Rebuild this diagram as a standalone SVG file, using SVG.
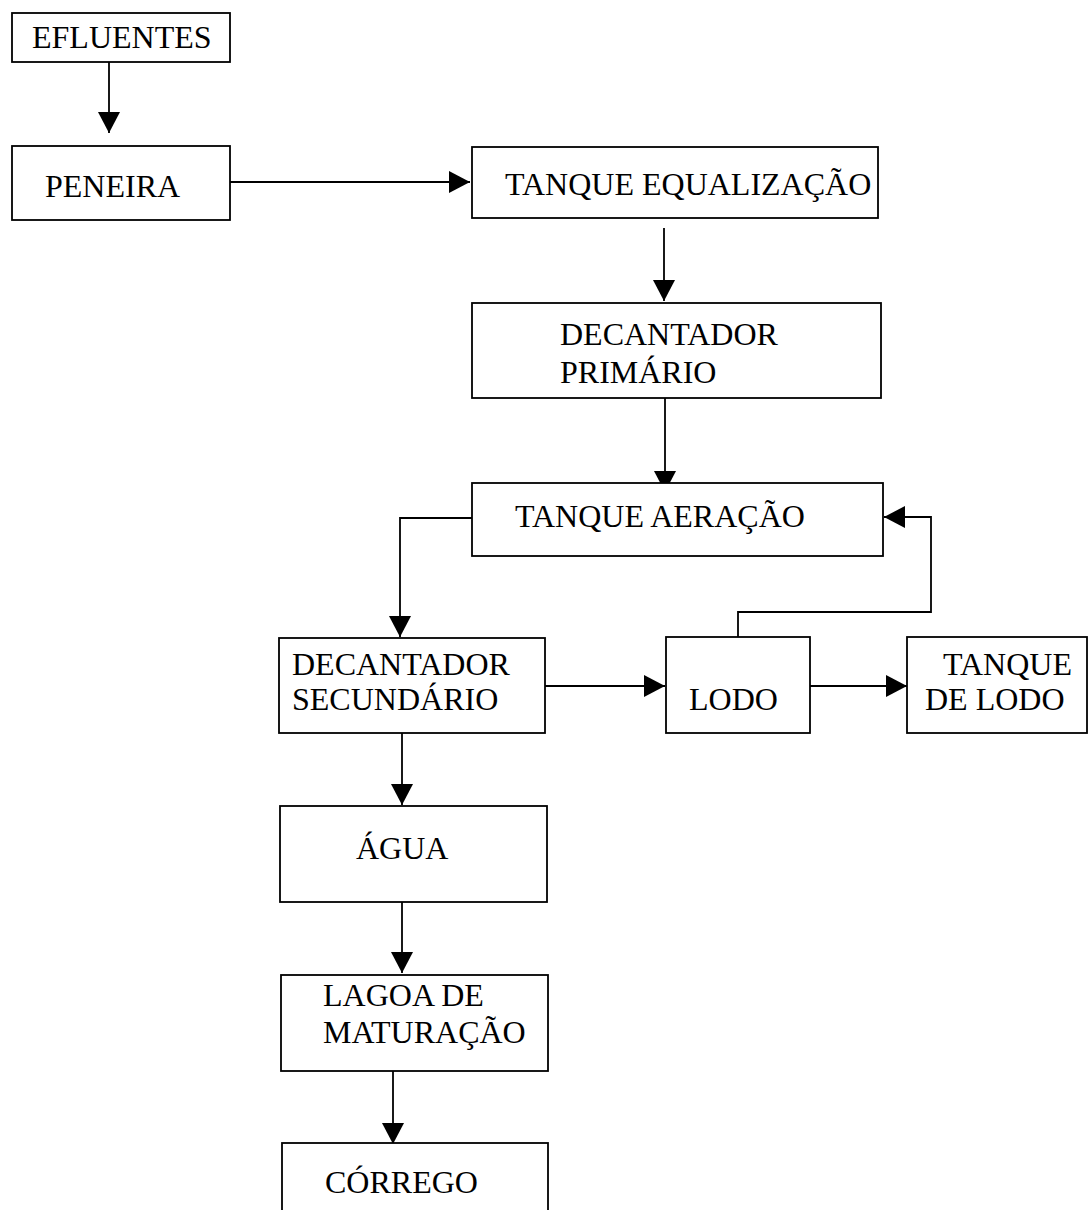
<svg xmlns="http://www.w3.org/2000/svg" width="1089" height="1210" viewBox="0 0 1089 1210">
<style>
.box{fill:#fff;stroke:#000;stroke-width:1.8}
.t{font-family:'Liberation Serif','DejaVu Serif',serif;font-size:32px;fill:#000}
.c{fill:none;stroke:#000;stroke-width:1.8}
</style>
<defs>
<marker id="ah" markerUnits="userSpaceOnUse" markerWidth="24" markerHeight="24" refX="21" refY="11" orient="auto">
<path d="M0,0 L21,11 L0,22 z" fill="#000"/>
</marker>
</defs>
<rect width="1089" height="1210" fill="#fff"/>
<g id="connectors">
<path class="c" d="M109,62 V133" marker-end="url(#ah)"/>
<path class="c" d="M230,182 H470" marker-end="url(#ah)"/>
<path class="c" d="M664,228 V301" marker-end="url(#ah)"/>
<path class="c" d="M665,398 V492" marker-end="url(#ah)"/>
<path class="c" d="M472,518 H400 V637" marker-end="url(#ah)"/>
<path class="c" d="M545,686 H665" marker-end="url(#ah)"/>
<path class="c" d="M810,686 H907" marker-end="url(#ah)"/>
<path class="c" d="M738,637 V612 H931 V517 H884" marker-end="url(#ah)"/>
<path class="c" d="M402,733 V805" marker-end="url(#ah)"/>
<path class="c" d="M402,902 V973" marker-end="url(#ah)"/>
<path class="c" d="M393,1071 V1144" marker-end="url(#ah)"/>
</g>
<g id="efluentes"><rect class="box" x="12" y="13" width="218" height="49"/><text class="t" x="32" y="48">EFLUENTES</text></g>
<g id="peneira"><rect class="box" x="12" y="146" width="218" height="74"/><text class="t" x="45" y="197">PENEIRA</text></g>
<g id="tanque-equalizacao"><rect class="box" x="472" y="147" width="406" height="71"/><text class="t" x="505" y="195">TANQUE EQUALIZAÇÃO</text></g>
<g id="decantador-primario"><rect class="box" x="472" y="303" width="409" height="95"/><text class="t" x="560" y="345">DECANTADOR</text><text class="t" x="560" y="383">PRIMÁRIO</text></g>
<g id="tanque-aeracao"><rect class="box" x="472" y="483" width="411" height="73"/><text class="t" x="515" y="527">TANQUE AERAÇÃO</text></g>
<g id="decantador-secundario"><rect class="box" x="279" y="638" width="266" height="95"/><text class="t" x="292" y="675">DECANTADOR</text><text class="t" x="292" y="710">SECUNDÁRIO</text></g>
<g id="lodo"><rect class="box" x="666" y="637" width="144" height="96"/><text class="t" x="689" y="710">LODO</text></g>
<g id="tanque-de-lodo"><rect class="box" x="907" y="637" width="180" height="96"/><text class="t" x="943" y="675">TANQUE</text><text class="t" x="925" y="710">DE LODO</text></g>
<g id="agua"><rect class="box" x="280" y="806" width="267" height="96"/><text class="t" x="356" y="859">ÁGUA</text></g>
<g id="lagoa-de-maturacao"><rect class="box" x="281" y="975" width="267" height="96"/><text class="t" x="323" y="1006">LAGOA DE</text><text class="t" x="323" y="1043">MATURAÇÃO</text></g>
<g id="corrego"><rect class="box" x="282" y="1143" width="266" height="80"/><text class="t" x="325" y="1193">CÓRREGO</text></g>
</svg>
